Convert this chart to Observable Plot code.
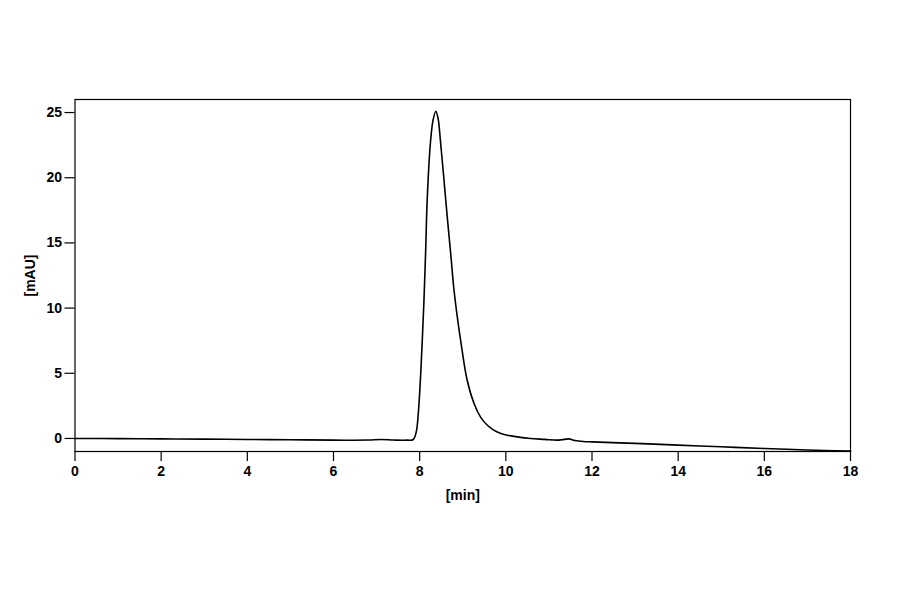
<!DOCTYPE html>
<html>
<head>
<meta charset="utf-8">
<script src="https://cdn.jsdelivr.net/npm/d3@7"></script>
<script src="https://cdn.jsdelivr.net/npm/@observablehq/plot@0.6"></script>
<style>
  html, body { margin: 0; padding: 0; background: #fff; }
  #chart { width: 900px; height: 594px; }
</style>
</head>
<body>
<div id="chart"></div>
<script>
const times = [0, 1, 2, 3, 4, 5, 6, 6.8, 7.1, 7.4, 7.7, 7.85, 7.92, 7.97, 8.02, 8.06, 8.10, 8.14, 8.175, 8.25, 8.31, 8.375, 8.43, 8.48, 8.56, 8.64, 8.72, 8.79, 8.87, 8.95, 9.10, 9.26, 9.41, 9.56, 9.72, 9.87, 10.03, 10.3, 10.57, 10.9, 11.19, 11.3, 11.46, 11.6, 11.8, 12, 13, 14, 15, 16, 17, 17.4, 18];
const absorbance = [0, -0.01, -0.03, -0.05, -0.08, -0.10, -0.13, -0.12, -0.08, -0.12, -0.13, -0.08, 0.5, 2.0, 4.7, 7.5, 10.6, 14.5, 18.3, 22.7, 24.4, 25.1, 24.5, 22.9, 20.0, 17.0, 14.2, 11.6, 9.4, 7.55, 4.5, 2.7, 1.66, 1.05, 0.64, 0.40, 0.25, 0.1, 0.0, -0.07, -0.13, -0.1, -0.03, -0.15, -0.23, -0.26, -0.38, -0.51, -0.64, -0.77, -0.88, -0.92, -0.97];
const xTicks = [0, 2, 4, 6, 8, 10, 12, 14, 16, 18];
const yTicks = [0, 5, 10, 15, 20, 25];

const data = times.map((t, i) => ({t, v: absorbance[i]}));

const chart = Plot.plot({
  width: 900,
  height: 594,
  marginLeft: 74.5,
  marginRight: 50,
  marginTop: 99,
  marginBottom: 143,
  style: {fontFamily: "'Liberation Sans', Arial, sans-serif", fontSize: "14px", fontWeight: "bold", color: "#000", background: "#fff"},
  x: {domain: [0, 18]},
  y: {domain: [-1, 26]},
  marks: [
    Plot.frame({stroke: "#000", strokeWidth: 1.2}),
    Plot.axisX({ticks: xTicks, tickSize: 10, tickPadding: 5, tickFormat: d => String(d), label: "[min]", labelAnchor: "center", labelArrow: "none", labelOffset: 48, stroke: "#000", strokeWidth: 1.2}),
    Plot.axisY({ticks: yTicks, tickSize: 10, tickPadding: 3, tickFormat: d => String(d), label: "[mAU]", labelAnchor: "center", labelArrow: "none", labelOffset: 50, stroke: "#000", strokeWidth: 1.2}),
    Plot.line(data, {x: "t", y: "v", stroke: "#000", strokeWidth: 1.6, curve: "catmull-rom"})
  ]
});
document.getElementById("chart").appendChild(chart);
</script>
</body>
</html>
